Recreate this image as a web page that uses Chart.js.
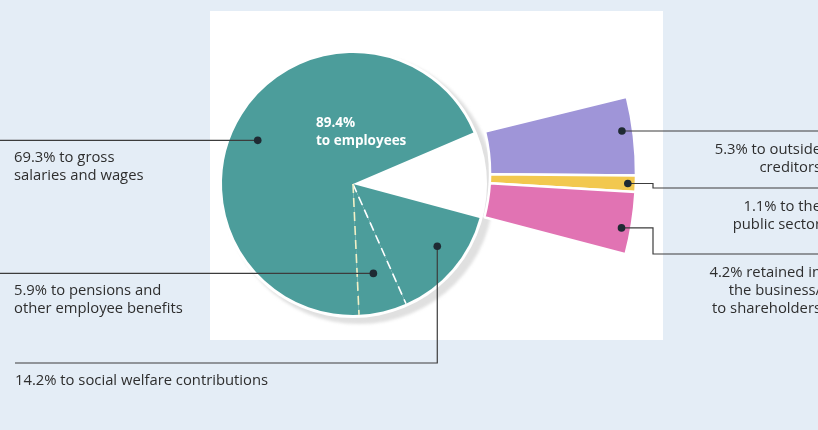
<!DOCTYPE html>
<html>
<head>
<meta charset="utf-8">
<script src="https://cdn.jsdelivr.net/npm/chart.js@4.4.1/dist/chart.umd.min.js"></script>
<style>
  html, body { margin: 0; padding: 0; }
  body {
    width: 818px; height: 430px; position: relative; overflow: hidden;
    background: #e4edf6;
    font-family: "Open Sans", "Noto Sans", sans-serif;
  }
  #panel { position: absolute; left: 210px; top: 11px; width: 453px; height: 329px; background: #fff; }
  canvas { position: absolute; left: 0; top: 0; }
  .lbl { position: absolute; font-size: 14.8px; line-height: 18px; color: #2e2e2e; white-space: pre; z-index: 5; }
  .right { text-align: right; }
  .total { color: #fff; font-weight: bold; font-size: 13.5px; }
</style>
</head>
<body>
<div id="panel"></div>
<canvas id="pieChart" width="818" height="430"></canvas>
<canvas id="fanChart" width="818" height="430"></canvas>

<script>
// employee slices, clockwise starting below the cut-out wedge
const empLabels = ['to social welfare contributions', 'to pensions and\nother employee benefits', 'to gross\nsalaries and wages'];
const empShares = [14.2, 5.9, 69.3];

// the pulled-out slices
const otherLabels = ['to outside\ncreditors', 'to the\npublic sector', 'retained in\nthe business/\nto shareholders'];
const otherShares = [5.3, 1.1, 4.2];

const totalLabel = 'to employees';

const TEAL = '#4c9d9b';
const otherColors = ['#9f95d8', '#f2c84f', '#e173b3'];

// where each dot sits inside its slice (fraction along the arc, fraction of radius)
const empDots = [{ t: 0.42, r: 0.80 }, { t: 0.52, r: 0.70 }, { t: 0.47, r: 0.80 }];
const otherDots = [{ t: 0.42, r: 0.965 }, { t: 0.5, r: 0.975 }, { t: 0.6, r: 0.97 }];

// leader line routes
const empLeaders = [{ downTo: 363, endX: 15 }, { endX: 0 }, { endX: 0 }];
const otherLeaders = [{ endX: 818 }, { elbowX: 653, downTo: 188, endX: 818 }, { elbowX: 653, downTo: 254, endX: 818 }];

function fmt(v) { return v.toFixed(1) + '%'; }

// move the chart area so the arcs' centre lands on (cx, cy)
function centerAt(chart, cx, cy) {
  const arc = chart.getDatasetMeta(0).data[0];
  const dx = cx - arc.x, dy = cy - arc.y;
  chart.options.layout.padding = {
    left: Math.max(0, 2 * dx), right: Math.max(0, -2 * dx),
    top: Math.max(0, 2 * dy), bottom: Math.max(0, -2 * dy)
  };
  chart.update('none');
}

function dotPoint(arc, place) {
  const a = arc.startAngle + place.t * (arc.endAngle - arc.startAngle);
  const rad = place.r * arc.outerRadius;
  return { x: arc.x + Math.cos(a) * rad, y: arc.y + Math.sin(a) * rad };
}

// leader lines + dots, drawn on top of the slices
const leaderPlugin = {
  id: 'leaders',
  afterDatasetsDraw(chart, args, opts) {
    const ctx = chart.ctx;
    const arcs = chart.getDatasetMeta(0).data;
    chart.$ends = [];
    opts.dots.forEach((place, i) => {
      const arc = arcs[i];
      const p = dotPoint(arc, place);
      const route = opts.routes[i];
      ctx.save();
      ctx.strokeStyle = '#3c3c3c';
      ctx.lineWidth = 1.2;
      ctx.beginPath();
      ctx.moveTo(p.x, p.y);
      let endY = p.y;
      if (route.elbowX !== undefined) {
        ctx.lineTo(route.elbowX, p.y);
        ctx.lineTo(route.elbowX, route.downTo);
        endY = route.downTo;
      } else if (route.downTo !== undefined) {
        ctx.lineTo(p.x, route.downTo);
        endY = route.downTo;
      }
      ctx.lineTo(route.endX, endY);
      ctx.stroke();
      ctx.fillStyle = '#1f2a33';
      ctx.beginPath();
      ctx.arc(p.x, p.y, 3.8, 0, Math.PI * 2);
      ctx.fill();
      ctx.restore();
      chart.$ends.push(endY);
    });
  }
};

// shadow and white rim behind the pie, dashed splits between employee slices
const piePlugin = {
  id: 'pieDecor',
  beforeDatasetsDraw(chart) {
    const ctx = chart.ctx;
    const a = chart.getDatasetMeta(0).data[0];
    ctx.save();
    ctx.filter = 'blur(1.5px)';
    ctx.fillStyle = '#e0e0e0';
    ctx.beginPath();
    ctx.arc(a.x + 6, a.y + 5, a.outerRadius + 4, 0, Math.PI * 2);
    ctx.fill();
    ctx.filter = 'none';
    ctx.fillStyle = '#ffffff';
    ctx.beginPath();
    ctx.arc(a.x, a.y, a.outerRadius + 3, 0, Math.PI * 2);
    ctx.fill();
    ctx.restore();
  },
  afterDatasetsDraw(chart) {
    const ctx = chart.ctx;
    const arcs = chart.getDatasetMeta(0).data;
    const splitColors = [null, '#ffffff', '#f2f0c6'];
    for (let i = 1; i < empShares.length; i++) {
      const a = arcs[i];
      ctx.save();
      ctx.strokeStyle = splitColors[i];
      ctx.lineWidth = 1.6;
      ctx.setLineDash([9, 5]);
      ctx.beginPath();
      ctx.moveTo(a.x, a.y);
      ctx.lineTo(a.x + Math.cos(a.startAngle) * a.outerRadius, a.y + Math.sin(a.startAngle) * a.outerRadius);
      ctx.stroke();
      ctx.restore();
    }
  }
};

const pieChart = new Chart(document.getElementById('pieChart'), {
  type: 'pie',
  data: {
    labels: [...empLabels, ...otherLabels],
    datasets: [{
      data: [...empShares, ...otherShares],
      backgroundColor: [...empShares.map(() => TEAL), ...otherShares.map(() => 'rgba(0,0,0,0)')],
      borderWidth: 0
    }]
  },
  options: {
    responsive: false,
    animation: false,
    rotation: 105,
    radius: 131,
    layout: { padding: 0 },
    plugins: {
      legend: { display: false },
      tooltip: { enabled: false },
      leaders: { dots: empDots, routes: empLeaders }
    }
  },
  plugins: [piePlugin, leaderPlugin]
});
centerAt(pieChart, 353, 184);

const fanChart = new Chart(document.getElementById('fanChart'), {
  type: 'doughnut',
  data: {
    labels: otherLabels,
    datasets: [{
      data: otherShares,
      backgroundColor: otherColors,
      borderColor: '#ffffff',
      borderWidth: 2.5
    }]
  },
  options: {
    responsive: false,
    animation: false,
    rotation: 76.2,
    circumference: 28.5,
    radius: 320,
    cutout: '54.4%',
    layout: { padding: 0 },
    plugins: {
      legend: { display: false },
      tooltip: { enabled: false },
      leaders: { dots: otherDots, routes: otherLeaders }
    }
  },
  plugins: [leaderPlugin]
});
centerAt(fanChart, 316, 173);

function addLabel(text, css, cls) {
  const el = document.createElement('div');
  el.className = 'lbl ' + (cls || '');
  el.textContent = text;
  Object.assign(el.style, css);
  document.body.appendChild(el);
}

empLabels.forEach((name, i) => {
  const x = empLeaders[i].endX === 0 ? 14 : empLeaders[i].endX;
  addLabel(fmt(empShares[i]) + ' ' + name, { left: x + 'px', top: (pieChart.$ends[i] + 7) + 'px' });
});
otherLabels.forEach((name, i) => {
  addLabel(fmt(otherShares[i]) + ' ' + name, { right: '-3px', top: (fanChart.$ends[i] + 8) + 'px' }, 'right');
});

const total = empShares.reduce((s, v) => s + v, 0);
addLabel(fmt(total) + '\n' + totalLabel, { left: '316px', top: '113px' }, 'total');
</script>
</body>
</html>
